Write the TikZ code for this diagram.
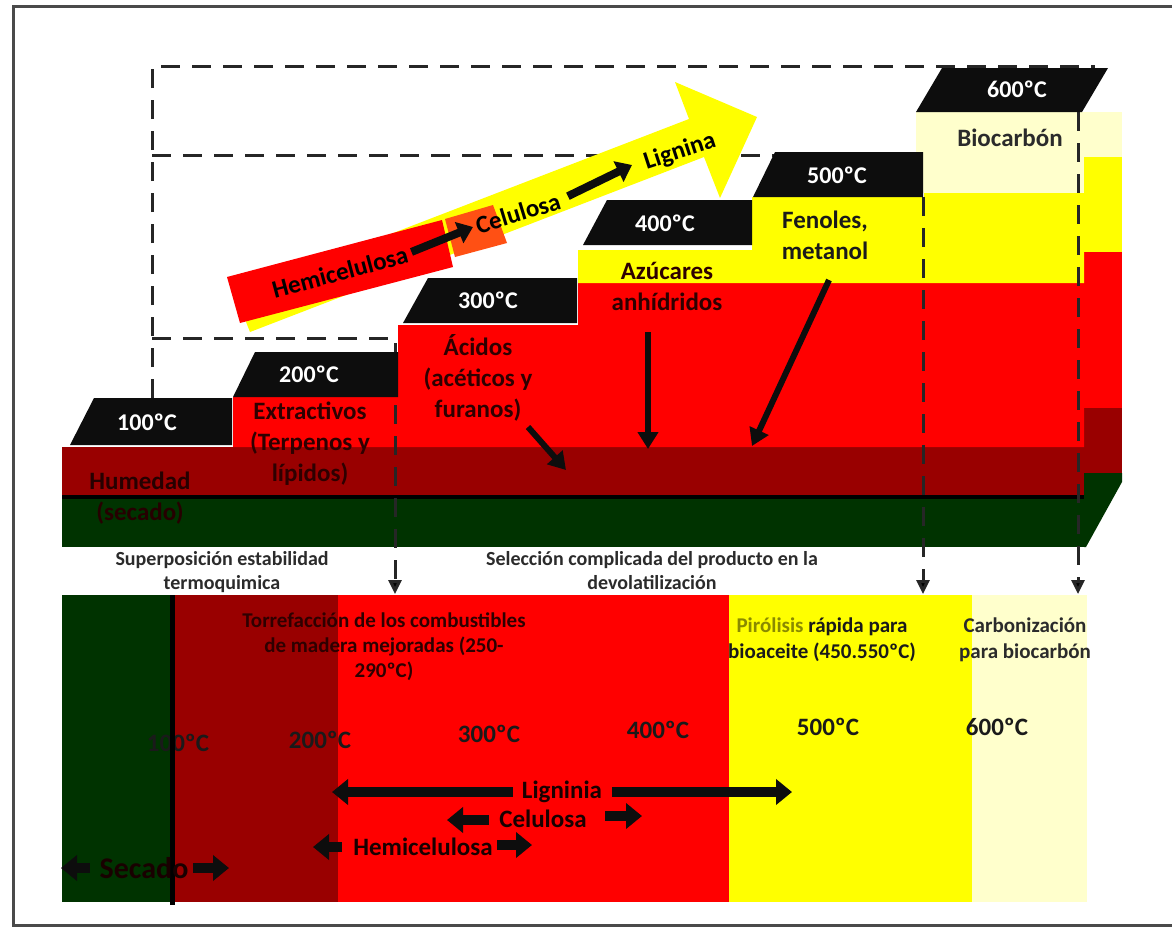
\documentclass[tikz,border=0pt]{standalone}
\usepackage{fontspec}
\setmainfont{Carlito}
\usetikzlibrary{arrows.meta}
\definecolor{boxblack}{HTML}{0D0D0D}
\definecolor{dgreen}{HTML}{003300}
\definecolor{dred}{HTML}{990000}
\definecolor{myred}{HTML}{FF0000}
\definecolor{myyellow}{HTML}{FFFF00}
\definecolor{lyellow}{HTML}{FFFFCC}
\definecolor{orng}{HTML}{FF5014}
\definecolor{dashgray}{HTML}{262626}
\definecolor{txtdeep}{HTML}{2E0000}
\definecolor{txtblk}{HTML}{1A1A1A}
\definecolor{olivetxt}{HTML}{8A8A00}
\definecolor{graytxt}{HTML}{2B2B2B}
\definecolor{framegray}{HTML}{4A4A4A}
\tikzset{
  boxfill/.style={fill=boxblack},
  boxlbl/.style={font=\bfseries\fontsize{24}{28}\selectfont, text=white, inner sep=0pt},
  stx/.style={font=\bfseries\fontsize{25}{31}\selectfont, align=center, inner sep=0pt, text=txtdeep},
  atx/.style={font=\bfseries\fontsize{25}{30}\selectfont, inner sep=0pt, text=black},
  smalltx/.style={font=\bfseries\fontsize{20}{24}\selectfont, align=center, inner sep=0pt, text=graytxt},
  temptx/.style={font=\bfseries\fontsize{25}{30}\selectfont, inner sep=0pt, text=txtblk},
  rowtx/.style={font=\bfseries\fontsize{25}{30}\selectfont, inner sep=0pt, text=black!90!red},
  dsh/.style={draw=dashgray, line width=3pt, dash pattern=on 19pt off 12pt},
  dsharrow/.style={dsh, -{Triangle[length=14pt,width=13pt,fill=black]}},
  stairarrow/.style={draw=boxblack, line width=6pt, -{Triangle[length=17pt,width=20pt]}},
  smallarrow/.style={draw=boxblack, line width=8pt, -{Triangle[length=15pt,width=22pt]}},
  blockarrow/.style={draw=boxblack, line width=10pt, -{Triangle[length=16pt,width=25pt]}}
}
\begin{document}
\begin{tikzpicture}[x=1pt,y=-1pt]
\useasboundingbox (0,0) rectangle (1172,927);
\fill[white] (0,0) rectangle (1172,927);
\draw[line width=3pt, draw=framegray] (1180,6) -- (13,6) -- (13,925) -- (1180,925);

% ---------- staircase fills ----------
\fill[dgreen] (62,499) rectangle (1084,547);
\fill[dgreen] (1084,473) -- (1122,473) -- (1122,482) -- (1086,547) -- (1084,547) -- cycle;
\fill[dred] (62,447) rectangle (1084,497);
\fill[dred] (1084,408) rectangle (1122,473);
\fill[myred] (233,397) -- (398,397) -- (398,325) -- (578,325) -- (578,283) -- (1084,283) -- (1084,447) -- (233,447) -- cycle;
\fill[myred] (1084,252) rectangle (1122,408);
\fill[myyellow] (578,250) -- (752,250) -- (752,197) -- (924,197) -- (924,193) -- (1084,193) -- (1084,283) -- (578,283) -- cycle;
\fill[myyellow] (1084,157) rectangle (1122,252);
\fill[lyellow] (916,112) rectangle (1084,193);
\fill[lyellow] (1084,112) rectangle (1122,157);
\draw[line width=4pt, draw=black] (62,497) -- (1084,497);

% ---------- dashed guides ----------
\draw[dsh] (152,398) -- (152,66) -- (1095,66);
\draw[dsh] (152,155) -- (775,155);
\draw[dsh] (152,338) -- (395,338) -- (395,352);
\coordinate (d1s) at (395,405);
\coordinate (d1e) at (395,594);
\coordinate (d2s) at (923,197);
\coordinate (d2e) at (923,594);
\coordinate (d3s) at (1078,112);
\coordinate (d3e) at (1078,594);
\draw[dsharrow] (d1s) -- (d1e);
\draw[dsharrow] (d2s) -- (d2e);
\draw[dsharrow] (d3s) -- (d3e);

% ---------- temperature boxes ----------
\fill[boxfill] (70,445) -- (94,398) -- (232,398) -- (232,445) -- cycle;
\node[boxlbl] (b100) at (147,422) {100ºC};
\fill[boxfill] (233,397) -- (255,352) -- (398,352) -- (398,397) -- cycle;
\node[boxlbl] (b200) at (309,374) {200ºC};
\fill[boxfill] (403,323) -- (428,278) -- (577,278) -- (577,323) -- cycle;
\node[boxlbl] (b300) at (488,300) {300ºC};
\fill[boxfill] (583,245) -- (607,200) -- (752,200) -- (752,245) -- cycle;
\node[boxlbl] (b400) at (665,223) {400ºC};
\fill[boxfill] (753,197) -- (775,152) -- (923,152) -- (923,197) -- cycle;
\node[boxlbl] (b500) at (837,175) {500ºC};
\fill[boxfill] (916,112) -- (942,68) -- (1108,68) -- (1082,112) -- cycle;
\node[boxlbl] (b600) at (1017,89) {600ºC};

% ---------- staircase texts ----------
\node[stx, text=black!85!red] (hum) at (140,498) {Humedad\\(secado)};
\node[stx] (ext) at (310,444) {Extractivos\\(Terpenos y\\lípidos)};
\node[stx] (aci) at (478,378) {Ácidos\\(acéticos y\\furanos)};
\node[stx] (azu) at (667,286) {Azúcares\\anhídridos};
\node[stx, text=txtblk] (fen) at (825,235) {Fenoles,\\metanol};
\node[stx, text=graytxt] (bio) at (1010,138) {Biocarbón};

\coordinate (a1s) at (528,427);
\coordinate (a1e) at (566,470);
\coordinate (a2s) at (648,332);
\coordinate (a2e) at (648,449);
\coordinate (a3s) at (829,280);
\coordinate (a3e) at (752,446);
\draw[stairarrow] (a1s) -- (a1e);
\draw[stairarrow] (a2s) -- (a2e);
\draw[stairarrow] (a3s) -- (a3e);

% ---------- big tilted arrow ----------
\fill[myyellow] (250,332) -- (704,157) -- (720,198) -- (757,117) -- (675,82) -- (689,119) -- (235,294) -- cycle;
\fill[myred] (227,277) -- (442,220) -- (453,267) -- (240,323) -- cycle;
\fill[orng] (445,219) -- (493,205) -- (507,243) -- (455,257) -- cycle;
\node[atx, rotate=15] (hemi) at (340,272) {Hemicelulosa};
\node[atx, rotate=17] (celu) at (518,213) {Celulosa};
\node[atx, rotate=18] (lign) at (680,152) {Lignina};
\draw[smallarrow] (hemi.east) ++(4,-2) coordinate (s1s) -- (473,227) coordinate (s1e);
\draw[smallarrow] (celu.east) ++(8,-4) coordinate (s2s) -- (632,165) coordinate (s2e);

% ---------- bottom band ----------
\fill[dgreen] (62,595) rectangle (172,902);
\fill[dred] (172,595) rectangle (338,902);
\fill[myred] (338,595) rectangle (729,902);
\fill[myyellow] (729,595) rectangle (972,902);
\fill[lyellow] (972,595) rectangle (1087,902);

\node[smalltx] (sup) at (222,572) {Superposición estabilidad\\termoquimica};
\node[smalltx] (sel) at (652,571) {Selección complicada del producto en la\\devolatilización};
\node[smalltx, font=\bfseries\fontsize{21}{25}\selectfont, text=txtdeep] (tor) at (384,647) {Torrefacción de los combustibles\\de madera mejoradas (250-\\290ºC)};
\node[smalltx, font=\bfseries\fontsize{21}{26}\selectfont, text=txtblk] (pir) at (822,640) {\textcolor{olivetxt}{Pirólisis} rápida para\\bioaceite (450.550ºC)};
\node[smalltx, font=\bfseries\fontsize{21}{26}\selectfont] (car) at (1025,640) {Carbonización\\para biocarbón};

\node[temptx] (t100) at (178,743) {100ºC};
\node[temptx] (t200) at (320,740) {200ºC};
\node[temptx] (t300) at (489,734) {300ºC};
\node[temptx] (t400) at (658,730) {400ºC};
\node[temptx] (t500) at (828,727) {500ºC};
\node[temptx] (t600) at (997,727) {600ºC};
\draw[line width=5pt, draw=black] (172,595) -- (172,905);

\node[rowtx] (lig) at (562,792) {Ligninia};
\node[rowtx] (cel) at (543,819) {Celulosa};
\node[rowtx] (hem) at (423,847) {Hemicelulosa};
\node[rowtx, font=\bfseries\fontsize{30}{34}\selectfont] (sec) at (144,868) {Secado};
\coordinate (ligL) at (332,792);
\coordinate (ligR) at (792,792);
\coordinate (celL) at (447,820);
\coordinate (celR) at (642,816);
\coordinate (hemL) at (313,847);
\coordinate (hemR) at (532,845);
\coordinate (secL) at (61,868);
\coordinate (secR) at (229,868);
\draw[blockarrow] (513,792) -- (ligL);
\draw[blockarrow] (612,792) -- (ligR);
\draw[blockarrow] (489,820) -- (celL);
\draw[blockarrow] (605,816) -- (celR);
\draw[blockarrow] (342,847) -- (hemL);
\draw[blockarrow] (497,845) -- (hemR);
\draw[blockarrow] (90,868) -- (secL);
\draw[blockarrow] (193,868) -- (secR);
\end{tikzpicture}
\end{document}
